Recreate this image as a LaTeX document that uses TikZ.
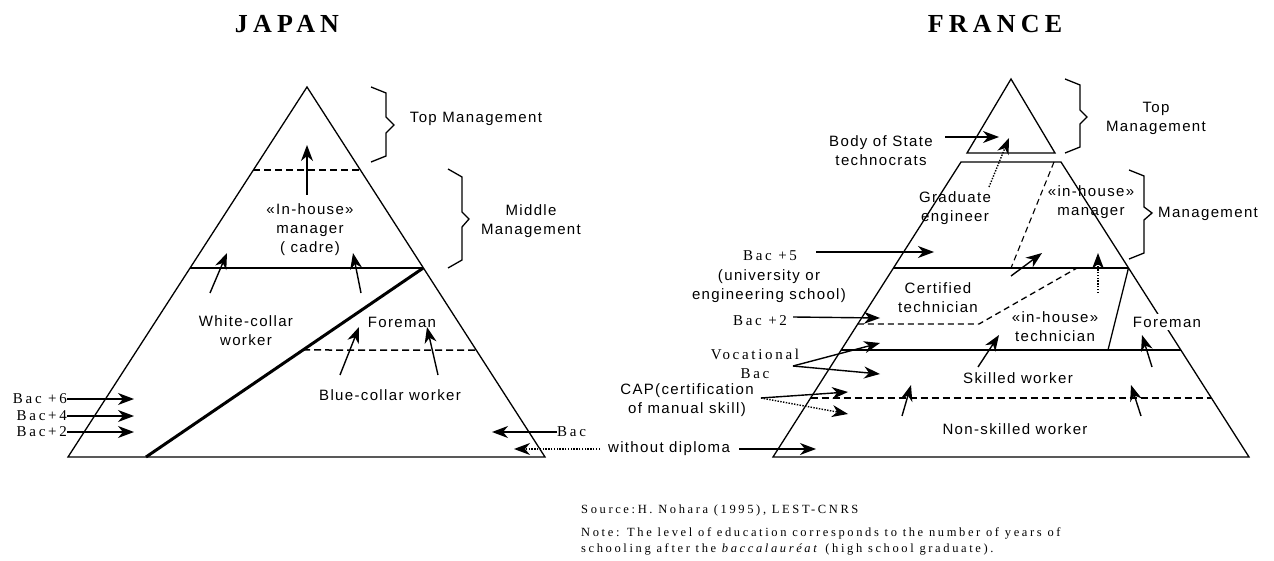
\documentclass[tikz,border=0pt]{standalone}
\usepackage{fontspec}
\usetikzlibrary{arrows.meta,calc}
\setmainfont{Liberation Serif}
\newfontfamily\labfont[LetterSpace=9]{Liberation Sans}
\newfontfamily\serlab[LetterSpace=18]{Liberation Serif}
\newfontfamily\titfont[LetterSpace=20]{Liberation Serif}
\newfontfamily\srcfont[LetterSpace=21]{Liberation Serif}
\begin{document}
\begin{tikzpicture}[x=1pt,y=-1pt,
  lab/.style={font=\labfont\fontsize{15}{19}\selectfont, align=center, inner sep=0pt},
  ser/.style={font=\serlab\fontsize{15}{19}\selectfont, align=center, inner sep=0pt},
  tit/.style={font=\titfont\bfseries\fontsize{26}{30}\selectfont, inner sep=0pt},
  src/.style={font=\srcfont\fontsize{12.5}{16}\selectfont, align=left, inner sep=0pt, anchor=west},
  outline/.style={line width=1.3pt, line join=miter},
  heavy/.style={line width=3pt},
  dashln/.style={line width=1.5pt, dash pattern=on 7pt off 4pt},
  dashthin/.style={line width=1.1pt, dash pattern=on 6pt off 4pt},
  arr/.style={line width=1.4pt, -{Stealth[length=16pt,width=12pt,inset=5pt]}},
  darr/.style={arr, dash pattern=on 1.4pt off 1.4pt},
  bracel/.style={line width=1.3pt, line join=miter}]
\useasboundingbox (0,0) rectangle (1274,561);

% ================= JAPAN =================
\node[tit] (jtitle) at (287,24) {JAPAN};
\coordinate (JA) at (307,87);
\coordinate (JL) at (68,457);
\coordinate (JR) at (545,457);
\draw[outline] (JA) -- (JL) -- (JR) -- cycle;
\coordinate (Jd1l) at ($(JA)!0.2243!(JL)$);
\coordinate (Jd1r) at ($(JA)!0.2243!(JR)$);
\draw[dashln] (Jd1l) -- (Jd1r);
\coordinate (Jm1l) at ($(JA)!0.489!(JL)$);
\coordinate (Jm1r) at ($(JA)!0.489!(JR)$);
\draw[outline] (Jm1l) -- (Jm1r);
\coordinate (Jdg) at (146,457);
\draw[heavy] (Jm1r) -- (Jdg);
\coordinate (Jd2l) at ($(Jm1r)!0.434!(Jdg)$);
\coordinate (Jd2r) at ($(JA)!0.711!(JR)$);
\draw[dashln] (Jd2l) -- (Jd2r);

% braces
\draw[bracel] (371,87) -- (386,93) -- (386,117) -- (394,125) -- (386,133) -- (386,156) -- (371,162);
\draw[bracel] (448,169) -- (462,177) -- (462,212) -- (469,219) -- (462,227) -- (462,260) -- (448,268);

% labels
\node[lab] (jinh) at (310,230) {«In-house»\\manager\\( cadre)};
\node[lab] (jwc) at (246,331) {White-collar\\worker};
\node[lab] (jfm) at (402,322) {Foreman};
\node[lab] (jbc) at (390,395) {Blue-collar worker};
\node[lab] (jtop) at (476,119) {Top Management};
\node[lab] (jmid) at (531,221) {Middle\\Management};

% arrows
\coordinate (ja1s) at (307,195); \coordinate (ja1e) at (307,145);
\coordinate (ja2s) at (210,293); \coordinate (ja2e) at (227,253);
\coordinate (ja3s) at (361,293); \coordinate (ja3e) at (353,253);
\coordinate (ja4s) at (340,375); \coordinate (ja4e) at (359,327);
\coordinate (ja5s) at (438,375); \coordinate (ja5e) at (427,327);
\draw[arr] (ja1s) -- (ja1e);
\draw[arr] (ja2s) -- (ja2e);
\draw[arr] (ja3s) -- (ja3e);
\draw[arr] (ja4s) -- (ja4e);
\draw[arr] (ja5s) -- (ja5e);

% Bac labels
\node[ser, anchor=east] (jb6) at (67,399) {Bac +6};
\node[ser, anchor=east] (jb4) at (67,416) {Bac+4};
\node[ser, anchor=east] (jb2) at (67,432) {Bac+2};
\coordinate (jb6e) at (134,399);
\coordinate (jb4e) at (134,416);
\coordinate (jb2e) at (134,432);
\draw[arr] (jb6.east) -- (jb6e);
\draw[arr] (jb4.east) -- (jb4e);
\draw[arr] (jb2.east) -- (jb2e);
\node[ser, anchor=west] (jbac) at (557,432) {Bac};
\coordinate (jbace) at (492,432);
\draw[arr] (jbac.west) -- (jbace);

\node[lab] (wod) at (669,449) {without diploma};
\coordinate (wodl) at (600,449); \coordinate (wodle) at (514,449);
\coordinate (wodr) at (739,449); \coordinate (wodre) at (816,449);
\draw[darr] (wodl) -- (wodle);
\draw[arr] (wodr) -- (wodre);

% ================= FRANCE =================
\node[tit] (ftitle) at (995,24) {FRANCE};
\coordinate (FA) at (1011,79);
\coordinate (FSL) at (967,153);
\coordinate (FSR) at (1055,153);
\draw[outline] (FA) -- (FSL) -- (FSR) -- cycle;
\coordinate (FTL) at (961,162);
\coordinate (FTR) at (1061,162);
\coordinate (FBL) at (773,457);
\coordinate (FBR) at (1249,457);
\draw[outline] (FTL) -- (FTR) -- (FBR) -- (FBL) -- cycle;
\coordinate (F1l) at ($(FTL)!0.359!(FBL)$);
\coordinate (F1r) at ($(FTR)!0.359!(FBR)$);
\coordinate (F2l) at ($(FTL)!0.637!(FBL)$);
\coordinate (F2r) at ($(FTR)!0.637!(FBR)$);
\coordinate (F3l) at ($(FTL)!0.8!(FBL)$);
\coordinate (F3r) at ($(FTR)!0.8!(FBR)$);
\draw[outline] (F1l) -- (F1r);
\draw[outline] (F2l) -- (F2r);
\draw[dashln] (F3l) -- (F3r);
\coordinate (Fdg1) at (1054,162); \coordinate (Fdg2) at (1011,268);
\draw[dashthin] (Fdg1) -- (Fdg2);
\coordinate (Fp1) at ($(FTL)!0.549!(FBL)$);
\coordinate (Fp2) at (979,324);
\coordinate (Fp3) at (1077,268);
\draw[dashthin, line width=1.3pt] (Fp1) -- (Fp2) -- (Fp3);
\coordinate (Ffm) at (1108,350);
\draw[outline] (F1r) -- (Ffm);

% braces
\draw[bracel] (1065,79) -- (1080,85) -- (1080,110) -- (1087,117) -- (1080,124) -- (1080,147) -- (1065,153);
\draw[bracel] (1129,170) -- (1144,176) -- (1144,207) -- (1152,213) -- (1144,220) -- (1144,253) -- (1129,259);

% labels
\node[lab] (fbody) at (881,151) {Body of State\\technocrats};
\node[lab] (ftop) at (1156,118) {Top\\Management};
\node[lab] (fgrad) at (955,208) {Graduate\\engineer};
\node[lab] (finhm) at (1091,202) {«in-house»\\manager};
\node[lab, anchor=west] (fmgmt) at (1158,214) {Management};
\node[ser] (fb5) at (770,256) {Bac +5};
\node[lab] (funiv) at (769,286) {(university or\\engineering school)};
\node[lab] (fcert) at (938,298) {Certified\\technician};
\node[ser] (fb2) at (760,321) {Bac +2};
\node[lab] (finht) at (1055,327) {«in-house»\\technician};
\node[lab, fill=white, inner sep=3pt] (ffm) at (1167,322) {Foreman};
\node[ser] (fvoc) at (755,364) {Vocational\\Bac};
\node[lab] (fsk) at (1018,378) {Skilled worker};
\node[lab] (fcap) at (687,400) {CAP(certification\\of manual skill)};
\node[lab] (fns) at (1015,429) {Non-skilled worker};

% arrows
\coordinate (fa1s) at (945,137); \coordinate (fa1e) at (999,137);
\coordinate (fa2s) at (989,187); \coordinate (fa2e) at (1009,138);
\coordinate (fa3s) at (816,252); \coordinate (fa3e) at (934,252);
\coordinate (fa4s) at (1011,276); \coordinate (fa4e) at (1042,253);
\coordinate (fa5s) at (1098,293); \coordinate (fa5e) at (1098,253);
\coordinate (fa6s) at (793,317); \coordinate (fa6e) at (880,318);
\coordinate (fa7s) at (793,366); \coordinate (fa7e) at (880,343); \coordinate (fa7f) at (880,374);
\coordinate (fa8s) at (978,367); \coordinate (fa8e) at (999,335);
\coordinate (fa9s) at (1152,367); \coordinate (fa9e) at (1142,335);
\coordinate (fa10s) at (761,398); \coordinate (fa10e) at (848,392); \coordinate (fa10f) at (848,414);
\coordinate (fa11s) at (902,416); \coordinate (fa11e) at (911,385);
\coordinate (fa12s) at (1141,416); \coordinate (fa12e) at (1131,385);
\draw[arr] (fa1s) -- (fa1e);
\draw[darr] (fa2s) -- (fa2e);
\draw[arr] (fa3s) -- (fa3e);
\draw[arr] (fa4s) -- (fa4e);
\draw[darr] (fa5s) -- (fa5e);
\draw[arr] (fa6s) -- (fa6e);
\draw[arr] (fa7s) -- (fa7e);
\draw[arr] (fa7s) -- (fa7f);
\draw[arr] (fa8s) -- (fa8e);
\draw[arr] (fa9s) -- (fa9e);
\draw[arr] (fa10s) -- (fa10e);
\draw[darr] (fa10s) -- (fa10f);
\draw[arr] (fa11s) -- (fa11e);
\draw[arr] (fa12s) -- (fa12e);

% source
\node[src] (srcline) at (581,510) {Source:H. Nohara (1995), LEST-CNRS};
\node[src] (note) at (581,541) {Note: The level of education corresponds to the number of years of\\schooling after the \textit{baccalauréat} (high school graduate).};
\end{tikzpicture}
\end{document}
